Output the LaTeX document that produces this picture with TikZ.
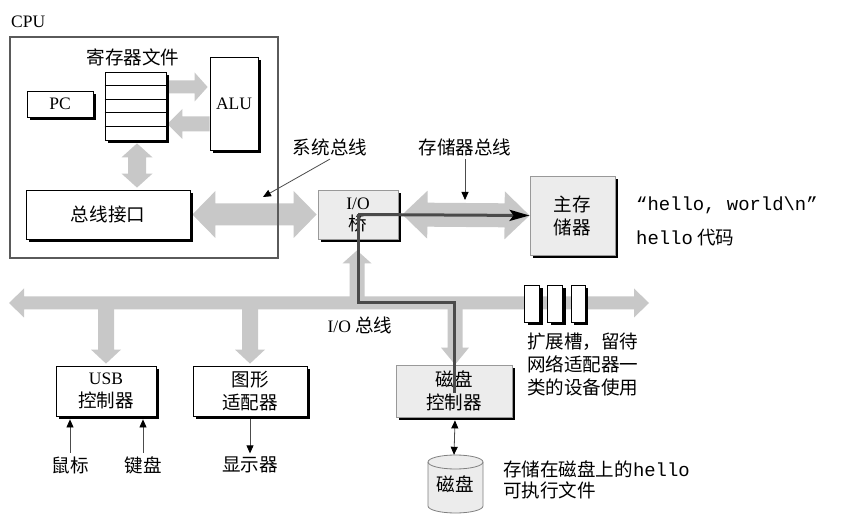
\documentclass[tikz,border=0pt]{standalone}
\usepackage{fontspec}
\setmainfont{Liberation Serif}
\setmonofont[Scale=1.08]{Liberation Mono}
\newfontfamily\cjkfont[Scale=1.06]{Noto Sans CJK SC}
\newcommand\zh[1]{{\cjkfont #1}}
\usetikzlibrary{calc,shadows,arrows.meta}
\pgfdeclarelayer{bg}
\pgfsetlayers{bg,main}
\definecolor{busgray}{HTML}{C8C8C8}
\definecolor{boxgray}{HTML}{ECECEC}
\definecolor{pathgray}{HTML}{4A4A4A}
\definecolor{cpuline}{HTML}{5A5A5A}
% single fat arrow: #2 start, #3 tip, #4 shaft half width, #5 head half width, #6 head length
\newcommand\sarrow[6][busgray]{%
  \coordinate (tmpH) at ($(#3)!#6!(#2)$);
  \fill[#1] ($(#2)!#4!90:(#3)$) -- ($(tmpH)!#4!90:(#3)$) -- ($(tmpH)!#5!90:(#3)$) -- (#3)
    -- ($(tmpH)!#5!-90:(#3)$) -- ($(tmpH)!#4!-90:(#3)$) -- ($(#2)!#4!-90:(#3)$) -- cycle;}
% double fat arrow
\newcommand\darrow[6][busgray]{%
  \coordinate (tmpA) at ($(#2)!#6!(#3)$);
  \coordinate (tmpB) at ($(#3)!#6!(#2)$);
  \fill[#1] (#2) -- ($(tmpA)!#5!90:(#3)$) -- ($(tmpA)!#4!90:(#3)$) -- ($(tmpB)!#4!90:(#3)$)
    -- ($(tmpB)!#5!90:(#3)$) -- (#3) -- ($(tmpB)!#5!-90:(#3)$) -- ($(tmpB)!#4!-90:(#3)$)
    -- ($(tmpA)!#4!-90:(#3)$) -- ($(tmpA)!#5!-90:(#3)$) -- cycle;}
\tikzset{
  shadowed/.style={drop shadow={shadow xshift=3pt, shadow yshift=-3pt, fill=black, opacity=1}},
  wbox/.style={draw=black, line width=0.8pt, fill=white, shadowed, align=center, inner sep=0pt},
  gbox/.style={draw=black!40, line width=0.8pt, fill=boxgray, shadowed, align=center, inner sep=0pt},
  dpath/.style={draw=pathgray, line width=3pt},
  thinarrow/.style={draw=black!70, line width=0.8pt},
  tip/.style={-{Triangle[length=8pt,width=7pt,black]}},
}
\begin{document}
\begin{tikzpicture}[x=1pt,y=-1pt,font=\fontsize{17.5}{23}\selectfont]
\useasboundingbox (0,0) rectangle (864,526);
\begin{pgfonlayer}{bg}
\fill[white] (0,0) rectangle (864,526);
\end{pgfonlayer}

% ---------- CPU ----------
\node[anchor=west, inner sep=0pt] (cpul) at (11,22) {CPU};
\node[wbox, minimum width=61pt, minimum height=68pt] (rf) at (135.5,106) {};
\foreach \k in {1,2,3,4}
  \draw[line width=0.8pt] ($(rf.north west)!\k/5!(rf.south west)$) -- ($(rf.north east)!\k/5!(rf.south east)$);
\node (rft) at (133,57) {\zh{寄存器文件}};
\node[wbox, minimum width=66pt, minimum height=26pt] (pc) at (60,104) {PC};
\node[wbox, minimum width=48pt, minimum height=93pt] (alu) at (234,103.5) {ALU};
\node[wbox, minimum width=164pt, minimum height=49pt] (bi) at (108,214.5) {\zh{总线接口}};

% ---------- bridge & memory ----------
\node[gbox, minimum width=80pt, minimum height=49pt, font=\fontsize{17.5}{21}\selectfont] (bridge) at (358,214.5) {I/O\\\zh{桥}};
\node[gbox, minimum width=85pt, minimum height=79pt] (mem) at (572.5,215.5) {\zh{主存}\\\zh{储器}};
\node[anchor=west, inner sep=0pt] (hw) at (636,205) {\ttfamily “hello, world\textbackslash n”};
\node[anchor=west, inner sep=0pt] (hc) at (636,238) {{\ttfamily hello} \zh{代码}};
\node (sbl) at (330,147) {\zh{系统总线}};
\node (mbl) at (465,147) {\zh{存储器总线}};
\coordinate (sbtip) at (263,197);
\coordinate (mbtip) at (465,200);

% ---------- I/O side ----------
\coordinate (busL) at (9,303);
\coordinate (busR) at (649,303);
\node[wbox, minimum width=100pt, minimum height=50pt] (usb) at (106,391) {USB\\\zh{控制器}};
\node[wbox, minimum width=114pt, minimum height=50pt] (gfx) at (250,391) {\zh{图形}\\\zh{适配器}};
\node[gbox, minimum width=116pt, minimum height=52pt] (dc) at (454,391) {\zh{磁盘}\\\zh{控制器}};
\node (mouse) at (70,465) {\zh{鼠标}};
\node (kbd) at (143,465) {\zh{键盘}};
\node (disp) at (250,465) {\zh{显示器}};
\node (iobl) at (360,325) {I/O \zh{总线}};
\node[wbox, minimum width=15pt, minimum height=37pt] (s1) at (532,303.5) {};
\node[wbox, minimum width=15pt, minimum height=37pt] (s2) at (555,303.5) {};
\node[wbox, minimum width=14pt, minimum height=37pt] (s3) at (578,303.5) {};
\node[anchor=west, align=left, inner sep=0pt] (slotl) at (527,364) {\zh{扩展槽，留待}\\\zh{网络适配器一}\\\zh{类的设备使用}};

% disk cylinder
\filldraw[fill=boxgray, draw=black!50, line width=0.8pt] (428,462) -- (428,506)
  arc[start angle=180, end angle=360, x radius=27.5pt, y radius=7pt] -- (483,462)
  arc[start angle=0, end angle=180, x radius=27.5pt, y radius=7pt] -- cycle;
\draw[draw=black!50, line width=0.8pt] (428,462) arc[start angle=180, end angle=360, x radius=27.5pt, y radius=7pt];
\node[minimum width=55pt, minimum height=58pt, inner sep=0pt] (disk) at (455.5,484) {\raisebox{-6pt}{\zh{磁盘}}};
\node[anchor=west, align=left, inner sep=0pt, font=\fontsize{17.5}{21}\selectfont] (diskl) at (503,479.5) {\zh{存储在磁盘上的}{\ttfamily hello}\\\zh{可执行文件}};

% ---------- fat gray arrows (background) ----------
\begin{pgfonlayer}{bg}
\coordinate (ra1) at ($(rf.east)+(0,-19)$);
\coordinate (ra2) at ($(alu.west)+(-2,-16.5)$);
\sarrow{ra1}{ra2}{6.5pt}{14.5pt}{13pt}
\coordinate (ra3) at ($(alu.west)+(0,20.5)$);
\coordinate (ra4) at ($(rf.east)+(1,18)$);
\sarrow{ra3}{ra4}{7.5pt}{15pt}{15pt}
\coordinate (rv1) at ($(rf.south)+(1.5,3)$);
\coordinate (rv2) at ($(rv1 |- bi.north)+(0,-2)$);
\darrow{rv1}{rv2}{9pt}{15.5pt}{14pt}
\coordinate (sb1) at ($(bi.east)+(2,0)$);
\coordinate (sb2) at ($(bridge.west)+(-1,0)$);
\darrow{sb1}{sb2}{11pt}{23.5pt}{23pt}
\coordinate (mb1) at ($(bridge.east)+(4,0)$);
\darrow{mb1}{mem.west}{12pt}{24pt}{25pt}
\darrow{busL}{busR}{6.5pt}{14.5pt}{15pt}
\coordinate (j1) at (usb.north |- busL);
\coordinate (j1t) at ($(usb.north)+(0,-2)$);
\sarrow{j1}{j1t}{8pt}{15pt}{14pt}
\coordinate (j2) at (gfx.north |- busL);
\coordinate (j2t) at ($(gfx.north)+(0,-2)$);
\sarrow{j2}{j2t}{8pt}{15pt}{14pt}
\coordinate (j3) at ($(dc.north |- busL)+(1,0)$);
\coordinate (j3t) at ($(dc.north)+(1,0)$);
\sarrow{j3}{j3t}{7.5pt}{14pt}{17pt}
\coordinate (j4) at ($(bridge.south |- busL)+(-1,0)$);
\coordinate (j4t) at ($(bridge.south)+(-1,11)$);
\sarrow{j4}{j4t}{7.5pt}{14.5pt}{13pt}
\end{pgfonlayer}

% CPU frame over the system bus
\node[draw=cpuline, line width=1.6pt, minimum width=268pt, minimum height=221pt, inner sep=0pt] (cpu) at (144,147.5) {};

% ---------- data path ----------
\draw[dpath, -{Stealth[length=20pt,width=11pt,inset=4pt,black]}] (bridge.center) -- (mem.west);
\draw[dpath] (bridge.center) -- (bridge.center |- busL) -- (dc.center |- busL) -- ($(dc.center)+(0,2)$);

% ---------- thin arrows ----------
\draw[thinarrow, tip] (sbl.south) -- (sbtip);
\draw[thinarrow, tip] (mbl.south) -- (mbtip);
\draw[thinarrow, tip] (mouse.north) -- ($(mouse.north |- usb.south)+(0,3)$);
\draw[thinarrow, tip] (kbd.north) -- ($(kbd.north |- usb.south)+(0,3)$);
\draw[thinarrow, tip] ($(gfx.south)+(0,3)$) -- (disp.north);
\draw[thinarrow, {Triangle[length=8pt,width=7pt,black]}-{Triangle[length=8pt,width=7pt,black]}] ($(dc.south)+(1,3)$) -- (disk.north -| dc.south);
\end{tikzpicture}
\end{document}
